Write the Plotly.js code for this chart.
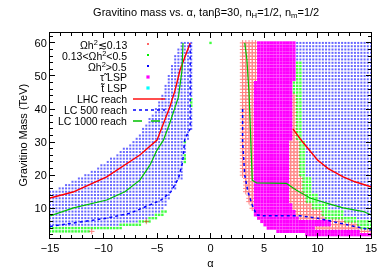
<!DOCTYPE html>
<html><head><meta charset="utf-8">
<script src="https://cdn.plot.ly/plotly-3.0.1.min.js"></script>
<style>body{margin:0;background:#fff}#plot{width:389px;height:273px}</style>
</head><body><div id="plot"></div>
<script>
// ---- scan grid (alpha step of the parameter scan) ----
const ALPHA_STEP = 0.3;

// ---- Omega h^2 > 0.5 (blue), left branch: one row per gravitino mass ----
const blueLeftRows = [5,6,7,8,9,10,11,12,13,14,15,16,17,18,19,20,21,22,23,24,25,26,27,28,29,30,31,32,33,34,35,36,37,38,39,40,41,42,43,44,45,46,47,48,49,50,51,52,53,54,55,56,57,58,59,60];
const blueLeftFrom = [-15,-15,-15,-15,-15,-15,-15,-15,-15,-15,-15,-14.2,-13.5,-12.8,-12.2,-11.7,-11.1,-10.6,-10.1,-9.7,-9.2,-8.8,-8.4,-8.0,-7.6,-7.3,-7.0,-6.7,-6.4,-6.2,-6.0,-5.8,-5.6,-5.4,-5.2,-5.0,-4.85,-4.7,-4.55,-4.4,-4.3,-4.2,-4.1,-4.0,-3.9,-3.8,-3.7,-3.6,-3.5,-3.4,-3.3,-3.2,-3.1,-3.0,-2.85,-2.7];
const blueLeftTo   = [-8.7,-6.9,-6.0,-5.4,-4.8,-4.5,-4.2,-4.2,-3.9,-3.9,-3.9,-3.3,-3.3,-3.3,-2.7,-2.7,-2.7,-2.7,-2.7,-2.7,-2.7,-2.7,-2.4,-2.4,-2.4,-2.7,-2.1,-2.1,-2.1,-1.8,-1.8,-1.8,-1.8,-1.8,-1.8,-1.8,-2.1,-2.1,-2.1,-1.8,-1.8,-1.8,-1.8,-1.8,-1.8,-1.8,-1.8,-1.8,-1.8,-1.8,-1.8,-1.8,-1.8,-1.8,-1.8,-1.8];
// blue, right branch: [mass from, mass to, alpha from, alpha to]
const blueRightSpans = [[55,60,8.1,15],[45,54,8.7,15],[31,44,8.7,15],[20,30,9.0,15],[15,19,9.6,15],[12,14,10.2,15],[10,11,11.1,15],[8,9,12.6,15],[7,7,13.8,15]];

// ---- 0.13 < Omega h^2 < 0.5 (green) ----
const greenSpans = [[3,3,-15,-11.4],[4,4,-15,-8.4],[5,5,-8.4,-6.6],[6,6,-6.6,-5.7],[7,7,-5.7,-5.1],[8,8,-5.1,-4.5],[9,9,-4.5,-4.2],
  [24,26,-2.4,-2.4],[30,30,-2.4,-2.4],[41,43,-1.8,-1.8],[60,60,0,0],
  [49,54,8.1,8.4],[45,48,7.8,8.4],[31,44,8.1,8.4],[20,30,8.4,8.7],[15,19,8.7,9.3],[12,14,9.0,9.9],[10,11,9.6,10.8],[8,9,10.5,12.3],[7,7,10.8,13.5],[6,6,12.6,15],[5,5,13.8,15],[4,4,14.1,15]];

// ---- Omega h^2 <~ 0.13 (red) ----
const redSpans = [[3,3,-11.1,-11.1],[6,6,-6.0,-6.0],
  [45,60,3.0,4.2],[20,44,3.0,3.9],[15,19,3.3,3.9],[12,14,3.6,3.9],[10,11,3.9,3.9],
  [31,44,7.8,7.8],[20,30,7.5,8.1],[15,19,7.5,8.4],[12,14,7.5,8.7],[10,11,7.8,9.3],[8,9,8.1,10.2],[7,7,8.4,10.5],[6,6,11.4,12.3],[5,5,11.4,13.5],[4,4,9.9,13.8],[3,3,14.1,15]];

// ---- stau LSP (magenta) ----
const stauSpans = [[49,60,4.5,7.8],[31,48,4.2,7.5],[20,30,4.2,7.2],[15,19,4.2,7.2],[12,14,4.2,7.2],[10,11,4.2,7.5],[8,9,4.2,7.8],[7,7,4.5,8.1],[6,6,4.8,11.1],[5,5,5.1,11.1],[4,4,5.4,9.6],[3,3,6.3,13.8],[2,2,9.0,15]];
// ---- stop LSP (cyan): no points in this window ----
const stopSpans = [];

// ---- reach contours (left branch, gap, right branch) ----
const lhcAlpha  = [-15,-12.85,-9.7,-6.6,-5.0,-4.4,-3.8,-3.3,-2.85,-2.4,-1.9, null, 7.7,8.5,10.0,11.0,12.4,13.5,15];
const lhcMass   = [13.1,14.9,19.5,26.1,30.6,35.8,40.6,45.8,51.8,55.7,60, null, 34,30.5,24.6,22,19.5,18,16.5];
const lc500Alpha = [-15,-12.8,-9.7,-7.5,-5.6,-4.6,-3.7,-3.0,-2.6,-2.4,-1.9,-1.9, null, 3.0,3.0,3.2,3.5,3.9,4.3,5.0,8.4,10.0,12.5,15];
const lc500Mass  = [4.5,5.5,7,8.5,11,12.5,15,19,24,31,34,60, null, 40,30,20,15,11,8,7.7,7.7,7.0,5.2,3.4];
const lc1000Alpha = [-15,-12.8,-9.7,-8.0,-6.6,-5.65,-5.0,-4.4,-3.8,-3.0,-2.66,-2.57, null, 3.2,3.4,3.6,3.7,3.8,3.9,4.3,7.1,8.0,9.3,11.0,12.4,14.3,15];
const lc1000Mass  = [7.7,10.1,12.5,15,18.5,23.1,27.6,30.6,35.8,43.6,51.8,60, null, 60,55,45,35,25,18.5,17.7,17.5,15.5,13.1,11.4,10.1,9.0,8.0];

// ---- labels ----
const legendLabels = ['Ωh<sup>2</sup>≲0.13','0.13<Ωh<sup>2</sup><0.5','Ωh<sup>2</sup>>0.5','τ̃ LSP','t̃ LSP','LHC reach','LC 500 reach','LC 1000 reach'];
const titleText = 'Gravitino mass vs. α, tanβ=30, n<sub>H</sub>=1/2, n<sub>m</sub>=1/2';
const xTickVals = [-15,-10,-5,0,5,10,15];
const yTickVals = [10,20,30,40,50,60];

function expand(spans){
  const x=[], y=[];
  for(const [m0,m1,a0,a1] of spans){
    const i0=Math.round((a0+15)/ALPHA_STEP), i1=Math.round((a1+15)/ALPHA_STEP);
    for(let m=m0;m<=m1;m++) for(let i=i0;i<=i1;i++){ x.push(+(-15+i*ALPHA_STEP).toFixed(2)); y.push(m); }
  }
  return {x,y};
}
const blueSpans = blueLeftRows.map((m,k)=>[m,m,blueLeftFrom[k],blueLeftTo[k]]).concat(blueRightSpans);
const blue = expand(blueSpans), green = expand(greenSpans), red = expand(redSpans), stau = expand(stauSpans), stop = expand(stopSpans);

const FONT = 'Liberation Sans, Arial, sans-serif';
const traces = [
  {x:blue.x, y:blue.y, type:'scatter', mode:'markers', name:legendLabels[2], marker:{symbol:'square', size:2, color:'#0000ff'}, opacity:0.6, hoverinfo:'skip'},
  {x:green.x, y:green.y, type:'scatter', mode:'markers', name:legendLabels[1], marker:{symbol:'square', size:2.4, color:'#00ff00'}, opacity:0.75, hoverinfo:'skip'},
  {x:red.x, y:red.y, type:'scatter', mode:'markers', name:legendLabels[0], marker:{symbol:'cross-thin', size:4, color:'#ff0000', line:{color:'#ff0000', width:1}}, opacity:0.5, hoverinfo:'skip'},
  {x:stau.x, y:stau.y, type:'scatter', mode:'markers', name:legendLabels[3], marker:{symbol:'square', size:3.2, color:'#ff00ff'}, hoverinfo:'skip'},
  {x:stop.x, y:stop.y, type:'scatter', mode:'markers', name:legendLabels[4], marker:{symbol:'square', size:3.2, color:'#00ffff'}, hoverinfo:'skip'},
  {x:lhcAlpha, y:lhcMass, type:'scatter', mode:'lines', name:legendLabels[5], line:{color:'#ff0000', width:1.4}, connectgaps:false},
  {x:lc500Alpha, y:lc500Mass, type:'scatter', mode:'lines', name:legendLabels[6], line:{color:'#0000ff', width:1.5, dash:'dot'}, connectgaps:false},
  {x:lc1000Alpha, y:lc1000Mass, type:'scatter', mode:'lines', name:legendLabels[7], line:{color:'#00c000', width:1.2}, connectgaps:false}
];

// custom legend (text right-aligned, key on the right, gnuplot style)
const L = 50, W = 321, T = 33, H = 205;
const px = v => (v - L) / W, py = v => (238 - v) / H;
const annotations = legendLabels.map((t,k)=>({text:t, xref:'paper', yref:'paper', x:px(128), y:py(44+11*k), xanchor:'right', yanchor:'middle', showarrow:false, borderpad:0, font:{family:FONT, size:10.5, color:'#000'}}));
annotations.push({text:'Gravitino Mass (TeV)', xref:'paper', yref:'paper', x:px(14), y:0.5, textangle:-90, showarrow:false, font:{family:FONT, size:11, color:'#000'}});
const keyColors = ['#ff6666','#00ee00','#0000ff','#ff00ff','#00ffff'];
const shapes = [];
keyColors.forEach((c,k)=>{ const yc = 44+11*k; const s = k>=3?1.6:1; shapes.push({type:'rect', xref:'paper', yref:'paper', x0:px(148-s), x1:px(148+s), y0:py(yc+s), y1:py(yc-s), fillcolor:c, line:{width:0}}); });
const lineKeys = [{c:'#ff0000', d:'solid', w:1.4},{c:'#0000ff', d:'dot', w:1.5},{c:'#00c000', d:'dash', w:1.4}];
lineKeys.forEach((o,k)=>{ const yc = 44+11*(5+k); shapes.push({type:'line', xref:'paper', yref:'paper', x0:px(133), x1:px(165), y0:py(yc), y1:py(yc), line:{color:o.c, width:o.w, dash:o.d}}); });

const axisCommon = {showline:true, linecolor:'#000', linewidth:1, mirror:'allticks', ticks:'inside', ticklen:5, tickcolor:'#000', showgrid:false, zeroline:false, tickfont:{family:FONT, size:11, color:'#000'}};
const layout = {
  width:389, height:273, margin:{l:L, r:389-L-W, t:T, b:273-T-H},
  paper_bgcolor:'#fff', plot_bgcolor:'#fff', showlegend:false,
  font:{family:FONT, size:11, color:'#000'},
  title:{text:titleText, font:{family:FONT, size:11, color:'#000'}, x:0.53, xanchor:'center', y:0.955, yanchor:'middle'},
  xaxis:Object.assign({}, axisCommon, {range:[-15,15], tickmode:'array', tickvals:xTickVals, minor:{dtick:1, tick0:0, ticks:'inside', ticklen:3, tickcolor:'#000', showgrid:false}, title:{text:'α', font:{family:FONT, size:11, color:'#000'}, standoff:6}}),
  yaxis:Object.assign({}, axisCommon, {range:[1,63], tickmode:'array', tickvals:yTickVals, minor:{dtick:2, tick0:0, ticks:'inside', ticklen:3, tickcolor:'#000', showgrid:false}}),
  annotations:annotations, shapes:shapes
};
Plotly.newPlot('plot', traces, layout, {staticPlot:true, displayModeBar:false});
</script></body></html>
